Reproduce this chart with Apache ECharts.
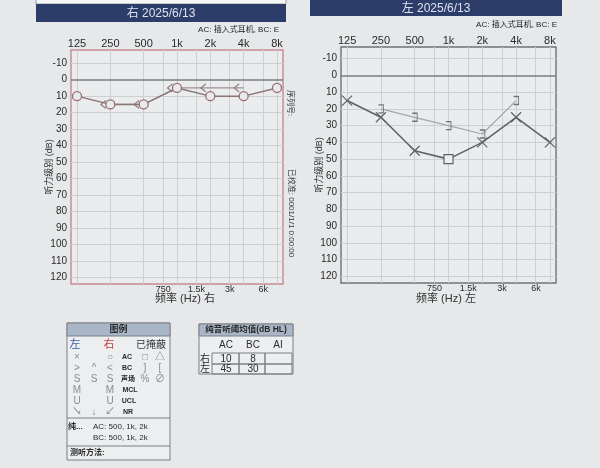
<!DOCTYPE html>
<html><head><meta charset="utf-8">
<script src="https://cdn.jsdelivr.net/npm/echarts@6/dist/echarts.min.js"></script>
<style>html,body{margin:0;padding:0;background:#e6e8ea}#c{width:600px;height:468px}</style>
</head><body><div id="c"></div><script>
// ---- data ----
const freqs = [125, 250, 500, 1000, 2000, 4000, 8000];
const topTickLabels = ['125', '250', '500', '1k', '2k', '4k', '8k'];
const midFreqs = [750, 1500, 3000, 6000];
const midTickLabels = ['750', '1.5k', '3k', '6k'];
const gridFreqs = [125, 250, 500, 750, 1000, 1500, 2000, 3000, 4000, 6000, 8000];
const dbTicks = [-10, 0, 10, 20, 30, 40, 50, 60, 70, 80, 90, 100, 110, 120];
const rightAC = [10, 15, 15, 5, 10, 10, 5];
const rightBCFreqs = [250, 500, 1000, 2000, 4000];
const rightBC = [15, 15, 5, 5, 5];
const leftAC = [15, 25, 45, 50, 40, 25, 40];
const leftACMasked = [false, false, false, true, false, false, false];
const leftBCFreqs = [250, 500, 1000, 2000, 4000];
const leftBC = [20, 25, 30, 35, 15];
const avgCols = ['AC', 'BC', 'AI'];
const avgRows = ['右', '左'];
const avgRight = ['10', '8', ''];
const avgLeft = ['45', '30', ''];
const titles = ['右 2025/6/13', '左 2025/6/13'];
const xNames = ['频率 (Hz) 右', '频率 (Hz) 左'];

// ---- helpers ----
const oct = f => Math.log2(f / 125);
const FONT = '"Liberation Sans","Noto Sans CJK SC",sans-serif';
const XMIN = -0.18, XMAX = 6.18;
const grids = [
  {left: 71, top: 50, width: 212, height: 234, ymin: -18, ymax: 124, border: '#c48a8e', nameGap: 17},
  {left: 341, top: 47, width: 215, height: 236, ymin: -17, ymax: 124, border: '#6f737a', nameGap: 17}
];
const pathX = 'path://M0,0L10,10M10,0L0,10';
const pathLt = 'path://M10,0L0,5L10,10';
const pathBr = 'path://M0,0L6,0L6,10L0,10';

const xAxes = [], yAxes = [];
grids.forEach((g, gi) => {
  xAxes.push({
    gridIndex: gi, type: 'value', position: 'top', min: XMIN, max: XMAX,
    axisLine: {show: false}, axisTick: {show: false},
    axisLabel: {customValues: freqs.map(oct), margin: 1, fontSize: 11, color: '#2a2a2a', fontFamily: FONT,
      formatter: v => topTickLabels[Math.round(v)]},
    splitLine: {show: false}
  });
  xAxes.push({
    gridIndex: gi, type: 'value', position: 'bottom', min: XMIN, max: XMAX,
    axisLine: {show: false}, axisTick: {show: false},
    axisLabel: {customValues: midFreqs.map(oct), margin: 1, fontSize: 9, color: '#2a2a2a', fontFamily: FONT,
      formatter: v => { let bi = 0, bd = 1e9; midFreqs.forEach((f, i) => { const d = Math.abs(oct(f) - v); if (d < bd) { bd = d; bi = i; } }); return midTickLabels[bi]; }},
    splitLine: {show: false}
  });
  yAxes.push({
    gridIndex: gi, type: 'value', inverse: true, min: g.ymin, max: g.ymax,
    axisLine: {show: false}, axisTick: {show: false},
    axisLabel: {customValues: dbTicks, margin: 4, fontSize: 10, color: '#2a2a2a', fontFamily: FONT},
    splitLine: {show: false},
    name: '听力级别 (dB)', nameLocation: 'middle', nameGap: g.nameGap, nameRotate: 90, nameMoveOverlap: false,
    nameTextStyle: {fontSize: 9, color: '#333', fontFamily: FONT}
  });
});

const gridLineStyle = {color: '#cdd0d3', width: 1, type: 'solid'};
const gridMarks = () => ({
  silent: true, symbol: 'none', label: {show: false}, animation: false,
  lineStyle: gridLineStyle,
  data: gridFreqs.map(f => ({xAxis: oct(f)})).concat(dbTicks.filter(v => v !== 0).map(v => ({yAxis: v})))
});
const zeroLine = {silent: true, symbol: 'none', label: {show: false},
  lineStyle: {color: '#7a7c80', width: 1.6, type: 'solid'}, data: [{yAxis: 0}]};

const series = [
  {type: 'line', xAxisIndex: 0, yAxisIndex: 0, z: 1, data: [], markLine: gridMarks()},
  {type: 'line', xAxisIndex: 2, yAxisIndex: 1, z: 1, data: [], markLine: gridMarks()},
  {type: 'line', xAxisIndex: 0, yAxisIndex: 0, z: 2, data: [], markLine: zeroLine},
  {type: 'line', xAxisIndex: 2, yAxisIndex: 1, z: 2, data: [], markLine: zeroLine},
  {
    type: 'line', xAxisIndex: 0, yAxisIndex: 0, z: 5,
    data: rightBCFreqs.map((f, i) => [oct(f), rightBC[i]]),
    symbol: pathLt, symbolSize: [5, 8], symbolOffset: [-7, 0],
    lineStyle: {color: '#9d8f90', width: 1.1},
    itemStyle: {color: 'rgba(0,0,0,0)', borderColor: '#8e7f80', borderWidth: 1.1}
  },
  {
    type: 'line', xAxisIndex: 0, yAxisIndex: 0, z: 6,
    data: freqs.map((f, i) => [oct(f), rightAC[i]]),
    symbol: 'circle', symbolSize: 9,
    lineStyle: {color: '#8a7474', width: 1.5},
    itemStyle: {color: '#e8eaec', borderColor: '#9a6e6e', borderWidth: 1.3}
  },
  {
    type: 'line', xAxisIndex: 2, yAxisIndex: 1, z: 5,
    data: leftBCFreqs.map((f, i) => [oct(f), leftBC[i]]),
    symbol: pathBr, symbolSize: [5, 8],
    lineStyle: {color: '#a3a6ab', width: 1.2},
    itemStyle: {color: 'rgba(0,0,0,0)', borderColor: '#6f7379', borderWidth: 1.1}
  },
  {
    type: 'line', xAxisIndex: 2, yAxisIndex: 1, z: 6,
    data: freqs.map((f, i) => ({
      value: [oct(f), leftAC[i]],
      symbol: leftACMasked[i] ? 'rect' : pathX,
      symbolSize: leftACMasked[i] ? 9 : 10,
      itemStyle: leftACMasked[i] ? {color: '#eceef0'} : {}
    })),
    lineStyle: {color: '#5f636a', width: 1.6},
    itemStyle: {color: 'rgba(0,0,0,0)', borderColor: '#5f636a', borderWidth: 1.2}
  }
];

// ---- decorations ----
const gfx = [];
const txt = (x, y, s, o) => gfx.push(Object.assign({type: 'text', x: x, y: y, silent: true,
  style: Object.assign({text: s, fontSize: 9, fill: '#333', fontFamily: FONT, align: 'center', verticalAlign: 'middle'}, o || {})}));
const rect = (x, y, w, h, fill, stroke, lw) => gfx.push({type: 'rect', silent: true,
  shape: {x: x, y: y, width: w, height: h}, style: {fill: fill || 'none', stroke: stroke || 'none', lineWidth: lw || 1}});
const line = (x1, y1, x2, y2, c, lw) => gfx.push({type: 'line', silent: true,
  shape: {x1: x1, y1: y1, x2: x2, y2: y2}, style: {stroke: c || '#777', lineWidth: lw || 1}});

// top white box & title bars
rect(36, -6, 250, 10, '#f6f7f8', '#9a9a9a');
rect(36, 4, 250, 18, '#2c3d6a');
txt(161, 13.5, titles[0], {fontSize: 12, fill: '#dde2ee'});
rect(310, 0, 252, 16, '#2c3d6a');
txt(436, 8.5, titles[1], {fontSize: 12, fill: '#dde2ee'});
txt(279, 30, 'AC: 插入式耳机, BC: E', {fontSize: 8, align: 'right', fill: '#222'});
txt(557, 25, 'AC: 插入式耳机, BC: E', {fontSize: 8, align: 'right', fill: '#222'});
// x axis names
txt(185, 299, xNames[0], {fontSize: 11, fill: '#333'});
txt(446, 299, xNames[1], {fontSize: 11, fill: '#333'});
// vertical side texts
gfx.push({type: 'text', x: 290, y: 103, rotation: -Math.PI / 2, silent: true,
  style: {text: '序列号:', fontSize: 8, fill: '#333', fontFamily: FONT, align: 'center', verticalAlign: 'middle'}});
gfx.push({type: 'text', x: 291, y: 213, rotation: -Math.PI / 2, silent: true,
  style: {text: '已校准: 0001/1/1 0:00:00', fontSize: 8, fill: '#333', fontFamily: FONT, align: 'center', verticalAlign: 'middle'}});

// legend box
rect(67, 323, 103, 137, '#eceef0', '#7d8084', 1);
rect(67, 323, 103, 13, '#a8b6c8', '#7d8084', 1);
txt(118.5, 330, '图例', {fontWeight: 'bold', fontSize: 9, fill: '#2a2a2a'});
txt(75, 345, '左', {fontSize: 11, fill: '#3b5aa8'});
txt(109, 345, '右', {fontSize: 11, fill: '#c84040'});
txt(151, 345, '已掩蔽', {fontSize: 10, fill: '#333'});
const legRows = [
  [357, [['×', 77], ['○', 110], ['AC', 127, true], ['□', 145], ['△', 160]]],
  [368, [['>', 77], ['^', 94], ['<', 110], ['BC', 127, true], [']', 145], ['[', 160]]],
  [379, [['S', 77], ['S', 94], ['S', 110], ['声场', 128, true], ['%', 145], ['∅', 160]]],
  [390, [['M', 77], ['M', 110], ['MCL', 130, true]]],
  [401, [['U', 77], ['U', 110], ['UCL', 129, true]]],
  [412, [['↘', 77], ['↓', 94], ['↙', 110], ['NR', 128, true]]]
];
legRows.forEach(r => r[1].forEach(it => txt(it[1], r[0], it[0],
  it[2] ? {fontSize: 7, fontWeight: 'bold', fill: '#2a2a2a'} : {fontSize: 10, fill: '#8a8c90'})));
line(67, 418, 170, 418, '#7d8084');
txt(68, 427, '纯...', {align: 'left', fontWeight: 'bold', fontSize: 8, fill: '#2a2a2a'});
txt(93, 427, 'AC: 500, 1k, 2k', {align: 'left', fontSize: 8, fill: '#2a2a2a'});
txt(93, 438, 'BC: 500, 1k, 2k', {align: 'left', fontSize: 8, fill: '#2a2a2a'});
line(67, 446, 170, 446, '#7d8084');
txt(70, 453, '测听方法:', {align: 'left', fontWeight: 'bold', fontSize: 8, fill: '#2a2a2a'});

// average table
rect(199, 324, 94, 50, '#eceef0', '#7d8084', 1);
rect(199, 324, 94, 12, '#a8b6c8', '#7d8084', 1);
txt(246, 330, '纯音听阈均值(dB HL)', {fontWeight: 'bold', fontSize: 8.5, fill: '#2a2a2a'});
const colX = [226, 253, 278];
avgCols.forEach((c, i) => txt(colX[i], 345, c, {fontSize: 10, fill: '#2a2a2a'}));
const colEdges = [212, 239, 265, 292];
const rowEdges = [353, 364, 374];
[avgRight, avgLeft].forEach((vals, r) => {
  txt(205, (rowEdges[r] + rowEdges[r + 1]) / 2 + 0.5, avgRows[r], {fontSize: 10, fill: '#2a2a2a'});
  vals.forEach((v, i) => {
    rect(colEdges[i], rowEdges[r], colEdges[i + 1] - colEdges[i], rowEdges[r + 1] - rowEdges[r], 'none', '#7d8084', 1);
    txt(colX[i], (rowEdges[r] + rowEdges[r + 1]) / 2 + 0.5, v, {fontSize: 10, fill: '#2a2a2a'});
  });
});

const chart = echarts.init(document.getElementById('c'), null, {renderer: 'canvas'});
chart.setOption({
  backgroundColor: '#e6e8ea',
  animation: false,
  grid: grids.map(g => ({left: g.left, top: g.top, width: g.width, height: g.height, show: true,
    borderColor: g.border, borderWidth: 1.4, backgroundColor: '#eaecee'})),
  xAxis: xAxes,
  yAxis: yAxes,
  series: series,
  graphic: {elements: gfx}
});
</script></body></html>
